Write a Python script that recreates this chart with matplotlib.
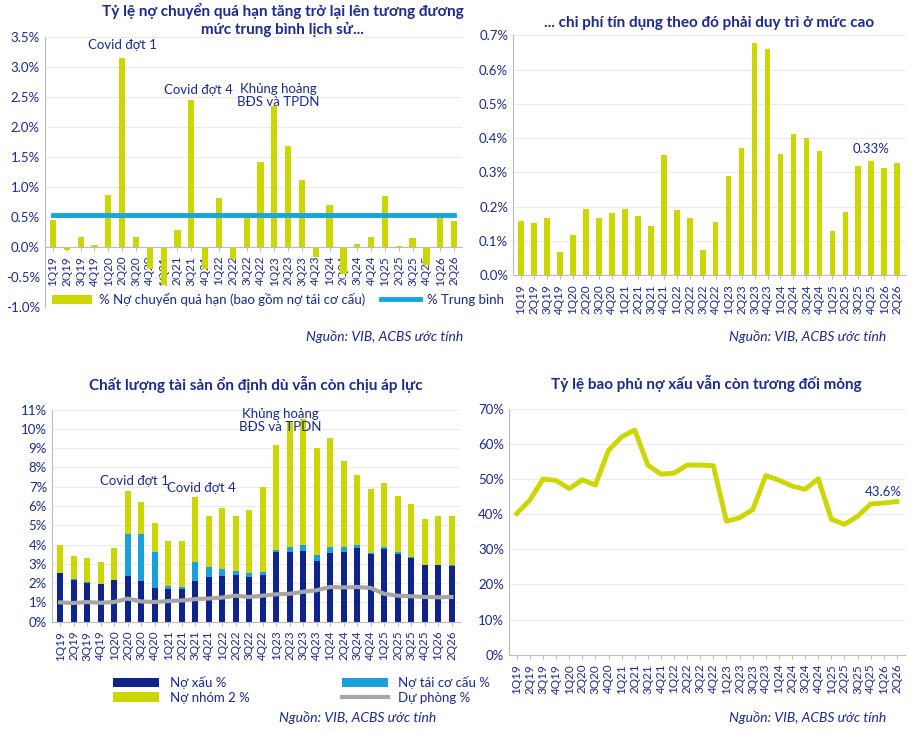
import numpy as np
import matplotlib.pyplot as plt
from matplotlib.ticker import FuncFormatter

quarters = [f"{q}Q{y}" for y in range(19, 27) for q in range(1, 5)][:30]

overdue = [0.45, -0.05, 0.17, 0.03, 0.87, 3.15, 0.16, -0.37, -0.63, 0.28, 2.44, -0.37, 0.82, -0.20, 0.52,
           1.41, 2.34, 1.68, 1.11, -0.17, 0.70, -0.45, 0.05, 0.17, 0.85, 0.02, 0.15, -0.30, 0.50, 0.43]
overdue_avg = 0.53

credit_cost = [0.158, 0.151, 0.167, 0.068, 0.118, 0.194, 0.166, 0.182, 0.192, 0.173, 0.144, 0.350, 0.190, 0.167, 0.074,
               0.154, 0.290, 0.371, 0.677, 0.661, 0.354, 0.413, 0.400, 0.361, 0.128, 0.185, 0.318, 0.332, 0.313, 0.327]

npl = [2.50, 2.17, 2.02, 1.95, 2.17, 2.37, 2.12, 1.74, 1.70, 1.68, 2.10, 2.30, 2.37, 2.43, 2.32,
       2.43, 3.63, 3.62, 3.67, 3.15, 3.57, 3.62, 3.82, 3.52, 3.78, 3.52, 3.32, 2.93, 2.92, 2.90]
npl_plus_restr = [2.55, 2.20, 2.05, 1.97, 2.17, 4.55, 4.55, 3.62, 1.85, 1.80, 3.10, 2.82, 2.75, 2.62, 2.52,
                  2.57, 3.72, 3.87, 3.98, 3.45, 3.87, 3.85, 3.98, 3.57, 3.85, 3.60, 3.36, 2.95, 2.93, 2.92]
total = [3.97, 3.40, 3.28, 3.08, 3.80, 6.78, 6.22, 5.10, 4.18, 4.20, 6.45, 5.48, 5.87, 5.48, 5.80,
         6.97, 9.15, 10.35, 10.50, 9.03, 9.55, 8.32, 7.63, 6.90, 7.17, 6.52, 6.12, 5.35, 5.48, 5.50]
provision = [1.00, 0.97, 1.02, 0.98, 1.02, 1.20, 1.05, 1.02, 1.07, 1.10, 1.17, 1.20, 1.25, 1.35, 1.28,
             1.35, 1.42, 1.45, 1.55, 1.63, 1.80, 1.78, 1.80, 1.75, 1.45, 1.35, 1.32, 1.28, 1.27, 1.28]

coverage = [40.2, 44.0, 50.0, 49.6, 47.3, 49.8, 48.3, 58.2, 62.0, 64.0, 54.0, 51.4, 51.7, 54.0, 54.0,
            53.8, 38.0, 39.0, 41.3, 51.0, 49.7, 48.0, 47.1, 50.1, 38.6, 37.1, 39.4, 42.9, 43.2, 43.6]

YEL = '#CCD600'
NAVY = '#0F238C'
LBLUE = '#1AA0DC'
TXT = '#1A2A8F'
GRID = '#EBEBEB'

plt.rcParams['font.family'] = ['Lato', 'DejaVu Sans']
plt.rcParams['text.color'] = TXT
plt.rcParams['xtick.color'] = TXT
plt.rcParams['ytick.color'] = TXT

fig = plt.figure(figsize=(9.12, 7.34), dpi=100)
x = np.arange(len(quarters))


def style(ax, fmt):
    ax.yaxis.set_major_formatter(FuncFormatter(fmt))
    ax.grid(axis='y', color=GRID, linewidth=0.8)
    ax.set_axisbelow(True)
    for s in ['top', 'right']:
        ax.spines[s].set_visible(False)
    ax.spines['left'].set_color('#BBBBBB')
    ax.spines['bottom'].set_color('#BBBBBB')
    ax.set_xticks(x)
    ax.set_xticklabels(quarters, fontsize=8.5)
    ax.tick_params(axis='x', labelrotation=90, length=3, color='#BBBBBB')
    ax.tick_params(axis='y', labelsize=9.5, length=0)
    ax.set_xlim(-0.6, len(quarters) - 0.4)


# Panel 1
ax1 = fig.add_axes([0.049, 0.582, 0.458, 0.368])
b1 = ax1.bar(x, overdue, width=0.45, color=YEL)
l1, = ax1.plot(x, [overdue_avg] * len(x), color='#16A6DD', linewidth=3.5)
ax1.set_ylim(-1.0, 3.5)
ax1.set_yticks(np.arange(-1.0, 3.51, 0.5))
ax1.spines['bottom'].set_position(('data', 0))
style(ax1, lambda v, p: f"{v:.1f}%")
ax1.text(5, 3.3, 'Covid đợt 1', ha='center', fontsize=9.5)
ax1.text(10.5, 2.55, 'Covid đợt 4', ha='center', fontsize=9.5)
ax1.text(16.3, 2.35, 'Khủng hoảng\nBĐS và TPDN', ha='center', fontsize=9.5, linespacing=1.1)
ax1.legend([b1, l1], ['% Nợ chuyển quá hạn (bao gồm nợ tái cơ cấu)', '% Trung bình'],
           loc='lower left', bbox_to_anchor=(-0.01, -0.04), ncol=2, frameon=False, fontsize=9.5,
           handlelength=3.0, columnspacing=1.2, handletextpad=0.5, labelcolor=TXT)
ax1.set_title('Tỷ lệ nợ chuyển quá hạn tăng trở lại lên tương đương\nmức trung bình lịch sử...',
              fontsize=11, fontweight='bold', color=TXT, pad=2, x=0.57)

# Panel 2
ax2 = fig.add_axes([0.5625, 0.625, 0.43, 0.327])
ax2.bar(x, credit_cost, width=0.45, color=YEL)
ax2.set_ylim(0, 0.7)
ax2.set_yticks(np.arange(0, 0.71, 0.1))
style(ax2, lambda v, p: f"{v:.1f}%")
ax2.text(x[-3], credit_cost[-3] + 0.025, f"{credit_cost[-3]:.2f}%", ha='center', fontsize=9.5)
ax2.set_title('... chi phí tín dụng theo đó phải duy trì ở mức cao', fontsize=11,
              fontweight='bold', color=TXT, pad=6)

# Panel 3
ax3 = fig.add_axes([0.057, 0.153, 0.447, 0.289])
restr = np.array(npl_plus_restr) - np.array(npl)
grp2 = np.array(total) - np.array(npl_plus_restr)
h1 = ax3.bar(x, npl, width=0.45, color=NAVY)
h2 = ax3.bar(x, grp2, bottom=npl_plus_restr, width=0.45, color=YEL)
h3 = ax3.bar(x, restr, bottom=npl, width=0.45, color=LBLUE)
h4, = ax3.plot(x, provision, color='#A6A6A6', linewidth=3)
ax3.set_ylim(0, 11)
ax3.set_yticks(range(0, 12))
style(ax3, lambda v, p: f"{v:.0f}%")
ax3.text(5.5, 7.1, 'Covid đợt 1', ha='center', fontsize=9.5)
ax3.text(10.5, 6.7, 'Covid đợt 4', ha='center', fontsize=9.5)
ax3.text(16.3, 9.9, 'Khủng hoảng\nBĐS và TPDN', ha='center', fontsize=9.5, linespacing=1.1)
ax3.legend([h1, h2, h3, h4], ['Nợ xấu %', 'Nợ nhóm 2 %', 'Nợ tái cơ cấu %', 'Dự phòng %'],
           loc='upper left', bbox_to_anchor=(0.12, -0.2), ncol=2, frameon=False, fontsize=9.5,
           handlelength=3.5, columnspacing=7, labelspacing=0.2, labelcolor=TXT)
ax3.set_title('Chất lượng tài sản ổn định dù vẫn còn chịu áp lực', fontsize=11,
              fontweight='bold', color=TXT, pad=14)

# Panel 4
ax4 = fig.add_axes([0.558, 0.108, 0.434, 0.335])
ax4.plot(x, coverage, color=YEL, linewidth=3.5)
ax4.set_ylim(0, 70)
ax4.set_yticks(range(0, 71, 10))
style(ax4, lambda v, p: f"{v:.0f}%")
ax4.text(x[-2], coverage[-1] + 1.5, f"{coverage[-1]:.1f}%", ha='center', fontsize=9.5)
ax4.set_title('Tỷ lệ bao phủ nợ xấu vẫn còn tương đối mỏng', fontsize=11,
              fontweight='bold', color=TXT, pad=14)

# Sources
for xs, ys in [(0.508, 0.535), (0.972, 0.535), (0.478, 0.017), (0.972, 0.017)]:
    fig.text(xs, ys, 'Nguồn: VIB, ACBS ước tính', ha='right', fontsize=10, style='italic', color=TXT)

fig.savefig('out.png', dpi=100)
